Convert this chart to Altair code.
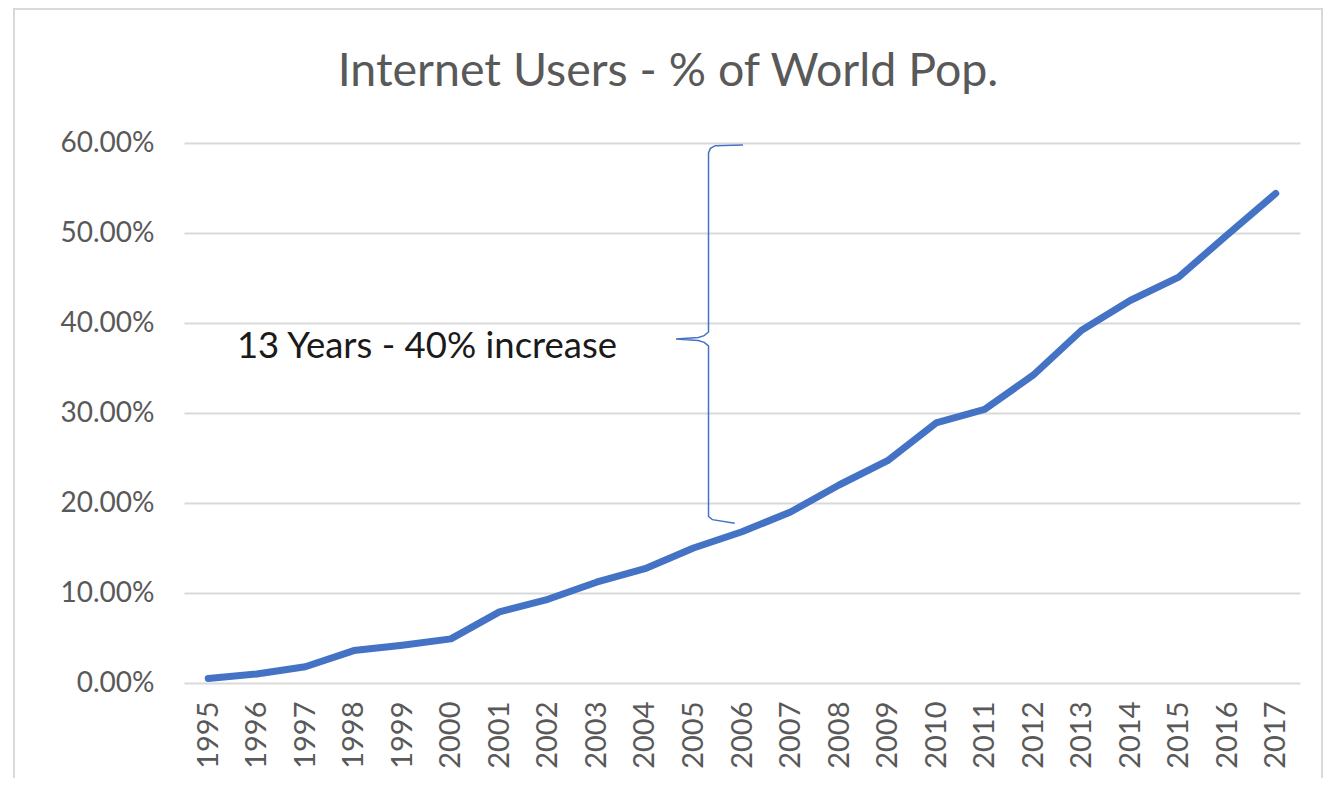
import altair as alt
import pandas as pd

# ---- data ----
years = list(range(1995, 2018))
pct_users = [0.5, 1.0, 1.8, 3.6, 4.2, 4.9, 7.9, 9.3, 11.2, 12.7, 15.0, 16.8,
             19.0, 22.0, 24.7, 28.9, 30.4, 34.2, 39.2, 42.5, 45.1, 49.8, 54.4]

y_ticks = [0.0, 0.1, 0.2, 0.3, 0.4, 0.5, 0.6]

# curly brace annotation, in (year, percent) units
brace_year = [2006.02, 2005.45, 2005.35, 2005.31, 2005.31, 2005.22, 2005.10, 2004.64,
              2005.10, 2005.22, 2005.31, 2005.31, 2005.39, 2005.85]
brace_pct = [59.78, 59.70, 59.40, 58.90, 39.00, 38.60, 38.40, 38.22,
             38.05, 37.85, 37.45, 18.50, 18.15, 17.75]

note_text = "13 Years - 40% increase"
note_year = 1995.59
note_pct = 36.1

title_text = "Internet Users - % of World Pop."

# ---- tables ----
df = pd.DataFrame({"year": years, "share": [v / 100 for v in pct_users]})
brace_df = pd.DataFrame({
    "year": brace_year,
    "share": [v / 100 for v in brace_pct],
    "order": list(range(len(brace_year))),
})
note_df = pd.DataFrame({"year": [note_year], "share": [note_pct / 100], "text": [note_text]})
frame_df = pd.DataFrame({"a": [0]})

FONT = "Lato"
GREY = "#595959"
BLUE = "#4472C4"

xs = alt.Scale(domain=[1994.5, 2017.5], nice=False, zero=False)
ys = alt.Scale(domain=[0, 0.6], nice=False)

frame = alt.Chart(frame_df).mark_rect(
    fill="transparent", stroke="#d9d9d9", strokeWidth=2
).encode(
    x=alt.value(-170), x2=alt.value(1138), y=alt.value(-134), y2=alt.value(660)
)

line = alt.Chart(df).mark_line(
    color=BLUE, strokeWidth=7, strokeCap="round", strokeJoin="round"
).encode(
    x=alt.X("year:Q", scale=xs,
            axis=alt.Axis(values=years, format="d", labelAngle=270, title=None,
                          grid=False, ticks=False, domain=False,
                          labelFont=FONT, labelFontSize=29, labelColor=GREY,
                          labelPadding=18, labelFlush=False, labelOverlap=False)),
    y=alt.Y("share:Q", scale=ys,
            axis=alt.Axis(values=y_ticks, format=".2%", title=None,
                          grid=True, gridColor="#d9d9d9", gridWidth=2,
                          ticks=False, domain=False,
                          labelFont=FONT, labelFontSize=28, labelColor=GREY,
                          labelPadding=30)),
)

brace = alt.Chart(brace_df).mark_line(
    color=BLUE, strokeWidth=1.5
).encode(
    x=alt.X("year:Q", scale=xs),
    y=alt.Y("share:Q", scale=ys),
    order="order:Q",
)

note = alt.Chart(note_df).mark_text(
    align="left", baseline="alphabetic", font=FONT, fontSize=36.5, color="#1a1a1a"
).encode(
    x=alt.X("year:Q", scale=xs),
    y=alt.Y("share:Q", scale=ys),
    text="text:N",
)

chart = alt.layer(frame, line, brace, note).properties(
    width=1116,
    height=540,
    background="white",
    autosize=alt.AutoSizeParams(type="none"),
    padding={"left": 176, "top": 135, "right": 24, "bottom": 95},
    title=alt.TitleParams(
        text=title_text, font=FONT, fontSize=46.5, fontWeight="normal",
        color=GREY, anchor="middle", frame="group", dx=-74,
        baseline="alphabetic", offset=-124,
    ),
).configure_view(stroke=None, strokeWidth=0)

chart.save("out.html", embed_options={"renderer": "svg", "actions": False})
